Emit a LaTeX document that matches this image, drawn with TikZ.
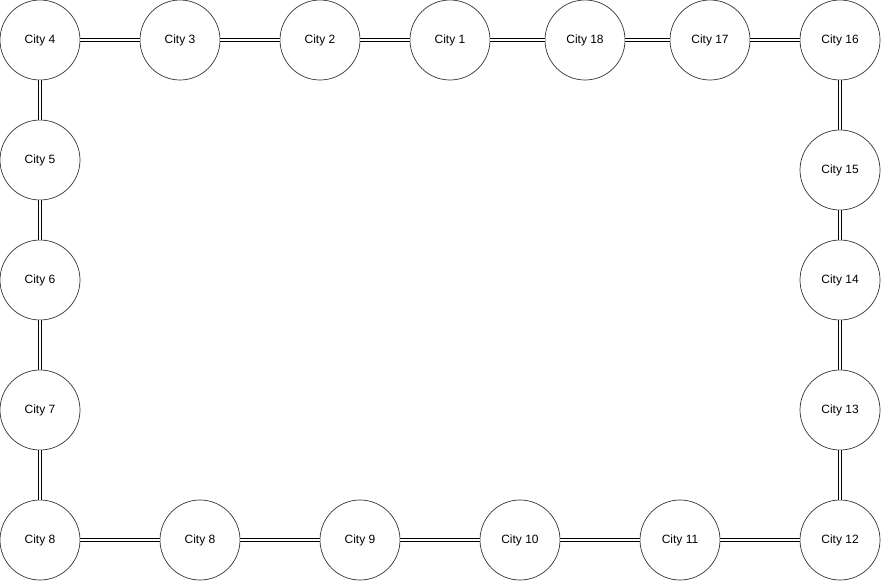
\documentclass[tikz,border=0pt]{standalone}
\usepackage{fontspec}
\setmainfont{Liberation Sans}
\begin{document}
\begin{tikzpicture}[x=1pt,y=-1pt,
  city/.style={circle,draw=black!80,line width=0.7pt,minimum size=80pt,inner sep=0pt,font=\fontsize{12}{14}\selectfont},
  link/.style={draw=black,double=white,double distance=2.6pt,line width=0.9pt}]
\useasboundingbox (0,0) rectangle (882,581);
\node[city] (c4) at (40,40) {City 4};
\node[city] (c3) at (180,40) {City 3};
\node[city] (c2) at (320,40) {City 2};
\node[city] (c1) at (450,40) {City 1};
\node[city] (c18) at (585,40) {City 18};
\node[city] (c17) at (710,40) {City 17};
\node[city] (c16) at (840,40) {City 16};
\node[city] (c5) at (40,160) {City 5};
\node[city] (c6) at (40,280) {City 6};
\node[city] (c7) at (40,410) {City 7};
\node[city] (c8a) at (40,540) {City 8};
\node[city] (c8b) at (200,540) {City 8};
\node[city] (c9) at (360,540) {City 9};
\node[city] (c10) at (520,540) {City 10};
\node[city] (c11) at (680,540) {City 11};
\node[city] (c12) at (840,540) {City 12};
\node[city] (c15) at (840,170) {City 15};
\node[city] (c14) at (840,280) {City 14};
\node[city] (c13) at (840,410) {City 13};
\draw[link] (c4) -- (c3);
\draw[link] (c3) -- (c2);
\draw[link] (c2) -- (c1);
\draw[link] (c1) -- (c18);
\draw[link] (c18) -- (c17);
\draw[link] (c17) -- (c16);
\draw[link] (c16) -- (c15);
\draw[link] (c15) -- (c14);
\draw[link] (c14) -- (c13);
\draw[link] (c13) -- (c12);
\draw[link] (c12) -- (c11);
\draw[link] (c11) -- (c10);
\draw[link] (c10) -- (c9);
\draw[link] (c9) -- (c8b);
\draw[link] (c8b) -- (c8a);
\draw[link] (c8a) -- (c7);
\draw[link] (c7) -- (c6);
\draw[link] (c6) -- (c5);
\draw[link] (c5) -- (c4);
\end{tikzpicture}
\end{document}
